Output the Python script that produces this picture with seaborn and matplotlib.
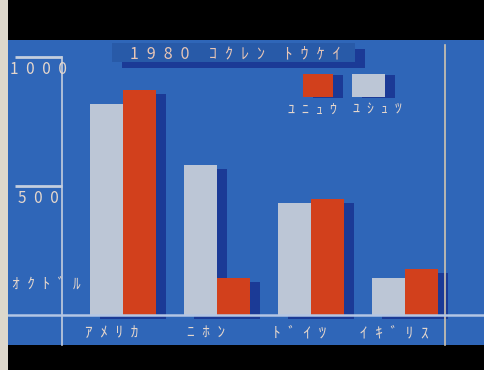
import matplotlib
matplotlib.use("Agg")
import matplotlib.pyplot as plt
import matplotlib.patheffects as pe
from matplotlib.patches import Rectangle
from matplotlib.transforms import ScaledTranslation
import seaborn as sns
import pandas as pd

# data (units: oku dollars)
countries = ["ｱﾒﾘｶ", "ﾆﾎﾝ", "ﾄﾞｲﾂ", "ｲｷﾞﾘｽ"]
series = ["ﾕｼｭﾂ", "ﾕﾆｭｳ"]          # exports, imports
exports = [818, 581, 434, 143]
imports = [872, 143, 450, 178]
yticks = [500, 1000]
title = "1980 ｺｸﾚﾝ ﾄｳｹｲ"
unit = "ｵｸﾄﾞﾙ"

BLUE = "#2f66b8"
BOX = "#285aa8"
NAVY = "#1b3a96"
GRAY = "#bcc6d6"
RED = "#d2401c"
TXT = "#e4d6cc"
LINE = "#c4cede"

sns.set_theme(style="white")
plt.rcParams["font.family"] = ["Noto Sans CJK JP", "DejaVu Sans"]


def spaced(s):
    # old screen font: wide letter spacing
    return "\u2002".join(s)


def px(x, y):
    return x / 485, 1 - y / 370


df = pd.DataFrame({
    "country": countries * 2,
    "flow": [series[0]] * 4 + [series[1]] * 4,
    "value": exports + imports,
})

fig = plt.figure(figsize=(4.85, 3.7), dpi=100, facecolor="black")

# screen background + page strip at the left
fig.add_artist(Rectangle(px(8, 345), 477 / 485, 305 / 370, transform=fig.transFigure,
                         facecolor=BLUE, edgecolor="none", zorder=-2))
fig.add_artist(Rectangle((0, 0), 8 / 485, 1, transform=fig.transFigure,
                         facecolor="#ddd8cc", edgecolor="none", zorder=-2))

ax = fig.add_axes([8 / 485, 25 / 370, 477 / 485, 300 / 370])
ax.patch.set_alpha(0)

sns.barplot(data=df, x="country", y="value", hue="flow", hue_order=series,
            palette=[GRAY, RED], saturation=1, width=0.7, gap=0,
            linewidth=0, legend=False, ax=ax)

shadow = [pe.SimplePatchShadow(offset=(7, -3), shadow_rgbFace=NAVY, alpha=1), pe.Normal()]
for p in ax.patches:
    p.set_path_effects(shadow)

ax.set_xlim(-1.223, 3.851)
ax.set_ylim(-116.3, 1046.5)
ax.set_xlabel("")
ax.set_ylabel("")

# axes look
for s in ["top", "bottom"]:
    ax.spines[s].set_visible(False)
ax.spines["left"].set_position(("axes", 0.113))
ax.spines["left"].set_bounds(-116.3, 1000)
ax.spines["left"].set_color(LINE)
ax.spines["left"].set_linewidth(1.2)
ax.spines["right"].set_position(("axes", 0.916))
ax.spines["right"].set_color("#cfc4b0")
ax.spines["right"].set_linewidth(1.2)
ax.axhline(0, color="#b4c6e4", lw=1.8, zorder=5)

ax.set_yticks(yticks)
ax.tick_params(axis="y", length=34, width=2, color=LINE, direction="out",
               labelleft=False, left=True)
for v in yticks:
    ax.annotate(spaced(str(v)), xy=(0.113, v), xycoords=("axes fraction", "data"),
                xytext=(-17, -9), textcoords="offset points", ha="center", va="center",
                fontsize=11, color=TXT)
ax.annotate(spaced(unit), xy=(0.113, 0), xycoords=("axes fraction", "data"),
            xytext=(-11, 22), textcoords="offset points", ha="center", va="center",
            fontsize=11, color=TXT)

ax.set_xticks(range(len(countries)))
ax.set_xticklabels([spaced(c) for c in countries], fontsize=11, color=TXT)
ax.tick_params(axis="x", length=0, pad=-15)
for lab in ax.get_xticklabels():
    lab.set_transform(lab.get_transform() + ScaledTranslation(-8 / 72, 0, fig.dpi_scale_trans))

# title box
tb = Rectangle(px(112, 62), 243 / 485, 19 / 370, transform=fig.transFigure,
               facecolor=BOX, edgecolor="none", zorder=3)
tb.set_path_effects([pe.SimplePatchShadow(offset=(7, -4), shadow_rgbFace=NAVY, alpha=1), pe.Normal()])
fig.add_artist(tb)
fig.text(*px(235, 54), spaced(title), ha="center", va="center", fontsize=11.5,
         color="#e8c6b6", zorder=4)

# legend drawn like the screen: swatch with shadow, label underneath
for name, col, x0, w, lx in [(series[1], RED, 303, 30, 313), (series[0], GRAY, 352, 33, 378)]:
    r = Rectangle(px(x0, 97), w / 485, 23 / 370, transform=fig.transFigure,
                  facecolor=col, edgecolor="none", zorder=3)
    r.set_path_effects([pe.SimplePatchShadow(offset=(7, -1), shadow_rgbFace=NAVY, alpha=1), pe.Normal()])
    fig.add_artist(r)
    fig.text(*px(lx, 110), spaced(name), ha="center", va="center", fontsize=10,
             color=TXT, zorder=4)

fig.savefig("out.png", dpi=100, facecolor=fig.get_facecolor())
